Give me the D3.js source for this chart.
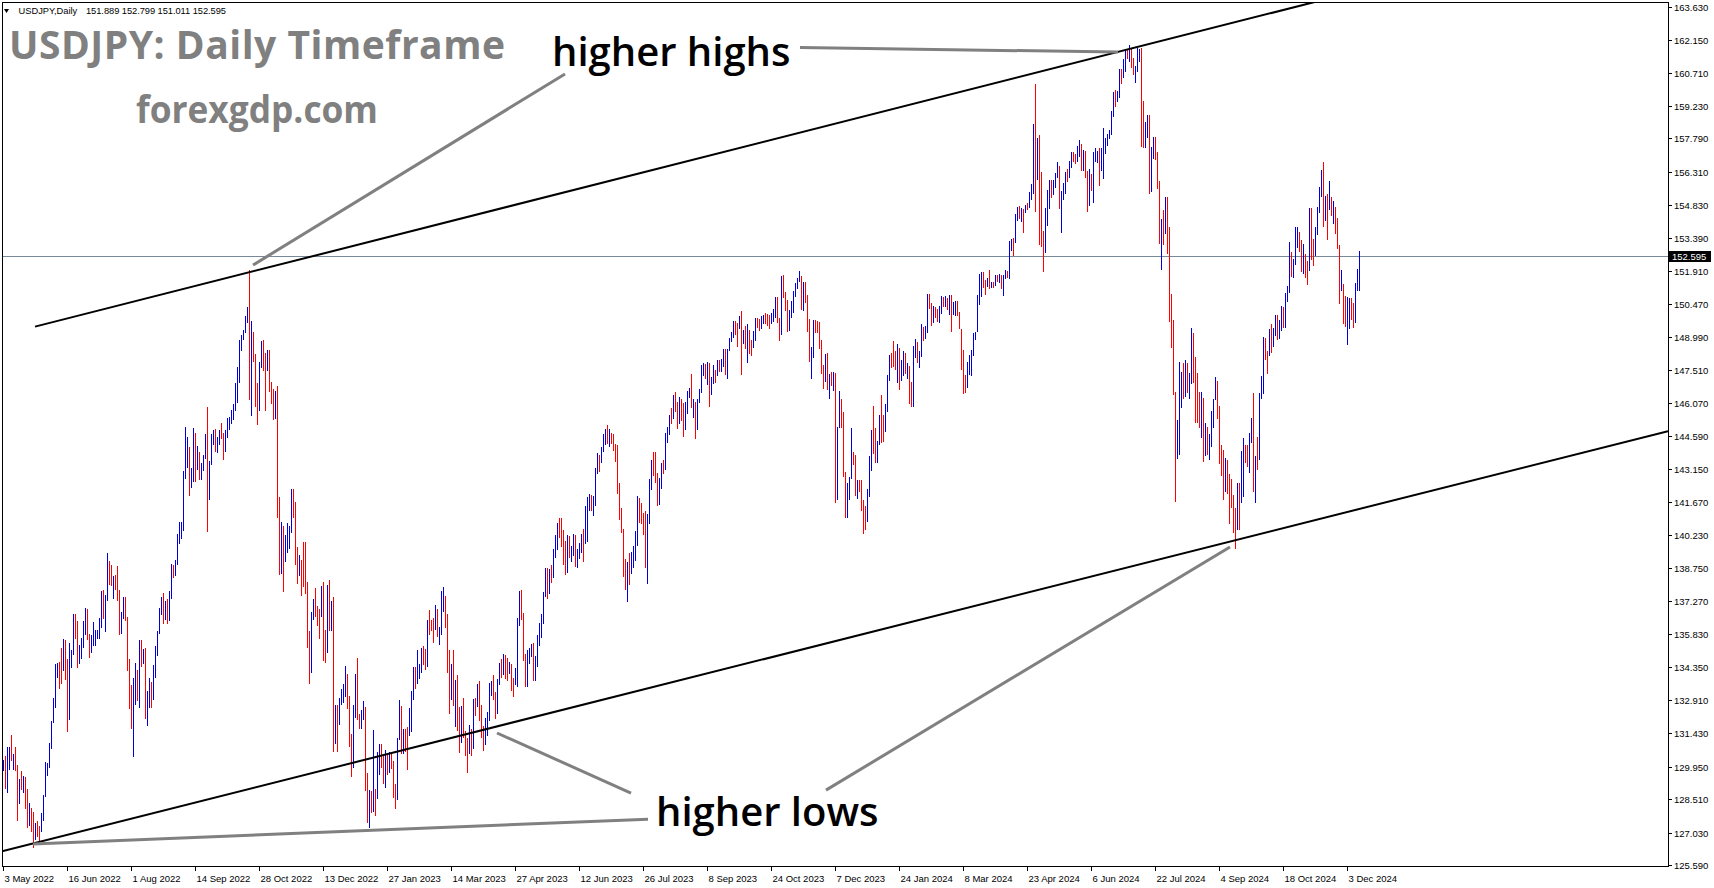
<!DOCTYPE html>
<html><head><meta charset="utf-8">
<script src="https://cdn.jsdelivr.net/npm/d3@7"></script>
<style>
html,body{margin:0;padding:0;background:#fff;overflow:hidden}
svg{display:block}
</style></head><body>
<svg id="chart" width="1714" height="888"></svg>
<script>
// ---------------- DATA ----------------
const symbolName = "USDJPY,Daily";
const headerOHLC = "151.889 152.799 151.011 152.595";
const titleText = "USDJPY: Daily Timeframe";
const siteText = "forexgdp.com";
const firstOpen = 129.95;
const lastPrice = 152.595;

// daily highs (3 May 2022 .. 11 Dec 2024)
const highs = [
130.25,130.40,130.80,130.80,131.35,130.50,130.80,130.00,129.40,129.75,129.55,129.50,128.95,128.35,128.10,127.95,127.45,127.55,127.30,127.90,128.70,130.15,130.10,130.98,131.95,133.00,134.50,134.55,134.60,135.20,135.60,135.55,
134.70,135.45,135.10,136.70,136.72,136.40,135.35,135.65,136.40,137.00,136.95,135.85,135.80,136.35,136.00,136.00,136.55,137.75,137.80,137.55,139.40,139.05,138.90,138.40,138.45,138.85,137.80,136.80,137.45,137.45,136.60,134.70,
133.55,133.90,134.55,134.25,135.55,135.55,135.15,135.20,133.30,133.90,133.70,134.45,135.30,135.95,137.00,137.45,137.65,137.30,137.40,137.75,138.95,138.90,139.10,140.25,140.80,140.80,143.05,144.99,144.55,144.10,143.20,144.95,
144.75,144.15,143.90,143.40,143.75,144.70,145.90,143.50,144.70,144.85,144.90,144.55,144.85,145.20,144.75,144.85,145.40,145.45,145.75,146.00,146.95,147.65,148.85,149.10,149.30,149.90,150.30,151.94,149.70,149.20,148.25,146.95,
147.90,148.80,148.85,148.30,148.40,148.40,147.00,146.70,146.60,146.80,141.90,140.80,140.60,140.20,140.75,140.60,142.25,142.25,141.70,139.70,139.35,139.10,139.90,139.90,138.15,135.95,136.80,137.40,137.85,137.05,136.95,137.95,
138.15,136.00,138.00,138.20,137.30,137.45,132.70,132.70,133.00,133.40,133.60,134.40,134.05,133.10,131.40,132.70,134.05,134.78,132.30,132.45,132.85,132.60,129.65,128.90,128.85,131.58,128.95,130.60,130.95,130.95,130.50,130.70,
130.45,130.60,130.55,130.20,129.20,131.20,132.90,132.65,131.60,131.60,131.70,132.55,133.30,134.35,134.35,135.10,134.50,135.20,135.30,135.15,136.45,136.90,136.45,136.55,137.10,136.95,136.15,137.75,137.91,137.50,136.70,135.10,
134.50,135.10,133.80,134.00,132.60,132.65,133.00,131.55,131.20,131.80,131.60,132.95,133.00,133.60,133.75,132.70,131.75,132.10,132.35,133.65,133.75,134.00,133.25,133.85,134.55,134.70,134.95,134.90,134.75,134.60,134.50,133.90,
134.30,136.55,137.75,137.80,136.75,134.95,135.10,135.20,135.40,135.45,134.85,135.80,136.30,136.70,137.70,138.75,138.75,138.70,138.90,139.60,140.20,140.75,140.95,140.95,140.45,139.95,140.20,140.15,139.75,140.25,140.20,139.60,
139.85,140.25,140.50,141.50,141.90,142.05,142.00,141.95,143.20,143.85,143.75,144.10,144.70,144.90,145.07,144.90,144.75,144.70,144.25,144.20,142.50,141.40,140.50,139.15,139.00,139.40,139.45,139.75,140.40,141.95,141.85,141.65,
141.20,141.30,141.15,142.70,143.55,143.90,143.90,142.95,142.75,143.40,143.55,144.75,145.00,145.55,145.85,146.40,146.55,146.10,146.35,146.25,146.05,146.10,146.60,146.75,147.35,146.25,146.10,146.25,146.70,147.75,147.85,147.80,
147.90,147.85,147.20,147.75,147.55,147.95,147.95,148.00,148.45,148.45,148.45,148.95,149.20,149.70,149.70,149.60,149.90,150.16,149.30,149.50,149.55,149.30,148.85,149.25,149.85,149.85,149.80,149.90,149.95,150.05,150.00,149.95,
150.05,150.25,150.75,150.75,149.85,151.70,151.75,151.00,150.65,150.20,150.60,151.05,151.40,151.60,151.92,151.70,151.45,151.45,150.85,149.80,148.55,149.75,149.75,149.70,149.65,148.85,147.75,148.25,148.30,147.35,147.45,147.45,
147.40,145.00,146.60,146.25,145.65,143.00,142.50,142.80,144.95,143.90,143.75,142.65,142.65,142.65,141.75,141.50,142.25,143.70,144.85,145.95,144.95,144.40,145.55,146.40,145.55,146.00,147.30,148.20,148.30,148.80,148.35,148.70,
148.50,147.95,148.35,148.30,147.85,147.70,147.00,148.60,148.90,148.75,148.35,149.55,149.45,149.50,150.90,150.90,150.50,150.35,150.30,150.25,150.35,150.80,150.75,150.80,150.70,150.85,150.85,150.55,150.60,150.60,150.10,149.35,
148.40,147.30,147.90,148.20,148.40,149.15,149.20,150.85,151.80,151.85,151.85,151.50,151.60,151.97,151.45,151.45,151.75,151.75,151.80,151.75,151.75,151.95,151.90,153.25,153.35,153.40,154.45,154.75,154.80,154.70,154.65,154.85,
154.95,155.40,155.75,158.45,160.20,157.80,157.95,156.30,153.70,154.70,155.50,155.95,155.95,155.95,156.25,156.75,156.55,155.45,155.80,156.30,156.45,156.80,157.20,157.20,157.10,157.45,157.70,157.55,157.30,157.25,156.35,156.45,
156.20,157.20,157.35,157.25,157.35,157.35,158.25,157.80,158.00,158.15,159.00,159.85,159.95,159.90,160.85,160.85,161.30,161.70,161.75,161.95,161.80,161.35,161.00,161.80,161.75,161.80,159.45,158.50,158.85,158.85,157.40,157.85,
157.85,157.20,155.90,154.20,154.60,155.20,155.20,153.85,150.90,149.75,146.55,145.30,147.90,147.45,147.85,147.95,147.85,147.40,149.40,149.15,148.10,147.40,146.55,146.55,146.30,145.20,145.00,144.70,145.70,146.25,147.20,147.05,
145.95,144.20,144.00,143.65,143.55,142.90,142.70,142.00,141.40,142.50,142.50,143.95,144.50,144.20,144.20,144.75,145.40,146.50,143.70,144.55,146.50,147.25,149.00,148.95,148.35,149.35,149.55,149.40,149.95,149.95,149.75,150.35,
150.30,150.95,151.25,153.20,152.75,152.45,153.85,153.85,153.65,153.30,153.10,152.65,152.35,154.70,154.70,153.35,153.85,154.75,155.65,156.40,156.75,155.25,155.35,155.90,155.20,155.00,154.75,154.25,153.05,151.95,151.35,150.80,
150.75,150.70,150.70,150.50,151.40,152.00,152.799
];
const lows = [
129.75,128.95,128.80,129.80,130.20,129.80,129.75,127.52,128.30,128.90,128.80,128.05,127.25,127.30,127.05,126.36,126.70,126.85,126.55,127.05,127.55,128.60,129.55,129.90,130.75,131.90,132.55,133.90,133.40,133.60,134.20,133.80,
131.50,132.00,134.30,134.90,135.60,134.30,134.50,134.70,135.20,135.80,135.55,134.75,135.00,135.30,135.30,135.60,135.60,136.10,136.50,135.90,137.30,138.00,137.95,137.40,137.80,137.30,135.80,135.85,136.50,136.40,134.20,132.50,
131.60,130.39,132.70,132.85,132.55,134.35,134.50,132.05,131.75,132.55,132.55,132.90,133.90,134.85,135.85,136.65,136.25,136.45,136.25,136.40,137.40,138.30,138.40,138.90,139.80,140.05,140.40,142.70,143.20,141.95,142.30,142.55,
142.55,143.10,142.65,142.65,143.05,143.60,140.35,141.75,143.30,144.20,143.90,143.85,144.20,144.45,143.55,143.90,144.50,144.85,145.15,145.30,145.70,146.05,146.95,148.35,148.85,149.15,149.60,146.20,145.50,147.90,145.90,145.10,
145.70,147.60,147.50,145.70,147.50,146.55,146.00,145.30,145.35,140.95,138.45,138.50,137.67,139.00,139.40,139.60,140.30,140.95,138.90,138.05,138.40,137.50,137.90,137.60,135.20,133.60,134.10,136.45,136.60,136.20,135.60,136.60,
134.65,134.55,135.00,135.95,135.95,130.58,130.95,130.60,131.80,132.70,132.75,133.05,132.50,130.80,129.50,129.90,132.10,132.00,131.60,131.60,132.00,128.85,127.45,127.25,127.90,127.95,127.75,128.50,129.60,129.90,129.20,129.00,
129.60,129.65,129.85,128.55,128.08,128.45,131.15,130.50,130.50,130.60,129.80,131.30,131.50,132.90,133.40,133.60,133.85,134.10,134.45,134.25,134.35,135.80,135.95,135.45,136.00,135.70,135.35,135.80,136.80,136.10,134.10,132.30,
132.90,132.65,131.70,131.55,130.55,131.00,131.20,130.40,129.65,130.50,130.40,130.75,132.20,132.60,131.95,131.20,130.65,130.90,131.30,131.95,133.10,132.90,132.05,132.30,133.55,133.90,134.00,133.85,133.75,134.05,133.30,133.05,
133.55,133.50,136.20,136.45,134.65,133.50,133.50,134.50,134.80,133.75,133.75,134.35,135.30,135.65,136.25,137.45,137.40,137.60,138.10,138.30,139.20,139.55,140.10,139.70,138.90,138.45,138.55,139.20,139.00,139.30,138.80,138.75,
139.15,139.40,139.00,139.80,139.90,141.30,141.30,141.05,141.50,142.90,143.00,143.40,143.90,144.20,144.25,144.10,144.25,143.95,143.45,142.05,140.90,140.30,138.35,137.80,137.25,138.00,138.50,138.75,139.05,139.75,140.75,140.70,
140.20,138.75,138.05,140.70,142.20,142.85,142.50,141.50,141.55,142.25,142.90,143.10,144.30,144.65,145.15,145.35,145.65,144.90,145.15,145.25,144.55,144.85,145.60,146.30,145.85,145.40,144.45,144.85,146.05,146.50,147.25,147.15,
146.85,145.90,146.40,146.90,146.95,147.25,147.45,147.45,147.65,147.30,147.15,148.35,148.75,148.95,149.10,148.55,149.35,147.30,148.70,148.45,147.85,148.25,148.15,148.50,148.80,149.40,149.25,149.35,149.55,149.55,149.50,149.35,
149.55,149.65,149.85,149.60,148.80,149.10,150.70,150.15,149.20,149.25,149.85,150.05,150.75,151.10,151.45,150.20,150.15,150.50,149.20,147.90,147.15,148.05,149.15,149.15,148.45,147.35,146.70,147.00,146.65,146.25,146.80,146.60,
141.62,141.75,144.95,144.95,142.80,140.95,140.95,141.75,142.70,143.30,141.95,141.80,142.10,141.30,140.25,140.45,140.80,141.90,143.05,143.80,143.40,143.40,144.20,144.30,144.35,144.80,145.65,147.05,147.60,147.65,147.55,146.95,
146.65,147.05,147.25,147.35,147.15,146.00,145.90,145.90,148.05,147.85,147.60,148.10,148.80,148.90,149.15,150.25,149.50,149.60,149.85,149.65,149.60,150.00,150.30,150.30,150.20,149.95,149.20,149.95,149.90,149.90,149.35,147.55,
146.48,146.50,146.75,147.30,147.25,148.15,148.85,149.20,150.40,150.75,151.15,150.85,151.20,151.10,151.15,151.15,151.25,151.45,151.40,151.10,150.80,151.55,151.60,151.55,152.80,152.60,153.15,154.15,154.20,154.10,153.60,154.50,
154.60,154.70,155.05,155.35,154.55,155.95,153.05,152.99,151.86,152.70,153.90,154.65,155.15,155.30,155.60,156.05,154.65,153.60,155.05,155.35,155.85,156.05,156.50,156.75,156.65,156.75,156.95,156.35,156.35,156.05,154.55,154.80,
155.45,154.95,156.75,156.70,155.70,156.35,156.00,157.10,157.45,157.75,157.95,158.75,159.20,159.40,159.60,160.20,160.45,160.75,161.30,161.20,160.90,160.60,160.25,160.75,161.20,157.40,157.35,157.35,157.80,155.35,155.40,156.90,
156.85,155.55,153.10,151.95,153.05,153.55,152.65,149.65,148.50,146.40,141.70,143.60,143.75,145.85,146.25,146.35,146.50,146.25,146.90,146.95,145.20,145.20,144.95,144.50,143.45,143.70,143.75,143.55,144.10,144.95,146.20,145.35,
143.35,142.85,141.75,142.10,142.05,140.70,141.40,140.30,139.58,140.45,140.45,141.65,141.90,143.40,143.25,142.95,144.30,142.10,141.65,143.10,143.55,146.25,146.45,147.95,147.35,148.15,148.30,148.55,149.05,148.85,148.90,149.25,
149.40,149.40,150.55,150.95,151.65,151.60,152.20,152.95,152.75,151.85,151.80,151.60,151.30,151.90,152.40,152.15,152.60,153.50,154.50,155.20,153.85,154.15,153.30,154.60,154.35,154.00,153.55,152.90,150.45,151.05,149.55,149.45,
148.65,149.35,149.75,149.40,149.60,151.05,151.011
];
const closes = [
130.10,129.10,130.20,130.55,130.30,130.40,129.95,128.35,129.20,129.15,129.40,128.25,127.80,127.90,127.85,126.85,127.30,127.10,127.10,127.65,128.70,129.85,129.90,130.85,131.90,132.60,134.25,134.40,134.40,134.35,135.45,134.20,
132.20,134.95,135.05,136.65,136.20,134.95,135.20,135.45,136.15,136.60,135.70,135.20,135.70,135.85,135.90,135.95,136.10,137.45,136.85,137.45,138.95,138.55,138.15,138.20,138.20,137.35,136.10,136.65,136.95,136.55,134.25,133.25,
131.60,133.15,133.85,133.00,135.00,134.95,135.05,132.90,133.00,133.45,133.30,134.20,135.00,135.85,136.95,137.45,136.75,137.15,136.55,137.45,138.75,138.75,138.95,140.20,140.25,140.55,142.75,144.00,144.10,142.45,142.85,144.55,
143.15,143.45,142.90,143.20,143.70,144.10,142.35,143.35,144.70,144.75,144.15,144.45,144.75,144.55,144.10,144.60,145.20,145.30,145.70,145.75,146.90,147.15,148.70,149.05,149.25,149.85,150.15,147.65,148.95,147.95,146.35,146.35,
147.45,148.70,148.15,147.90,148.25,146.60,146.60,145.65,146.40,141.00,138.75,139.90,139.25,139.55,140.25,140.35,142.05,141.25,139.60,138.55,139.15,138.95,138.60,138.05,135.35,134.30,136.75,137.00,136.60,136.55,136.55,137.70,
135.60,135.50,137.75,136.60,136.85,131.70,132.45,132.35,132.85,132.90,133.45,134.05,133.05,131.10,130.05,132.40,133.40,132.10,131.90,132.25,132.45,129.20,127.90,128.55,128.15,128.90,128.45,129.60,130.70,130.15,129.25,130.25,
129.85,130.40,130.10,128.90,128.65,131.15,132.60,131.05,131.40,131.40,131.35,132.35,133.10,134.15,133.95,134.15,134.25,134.95,134.90,134.70,136.45,136.20,136.20,136.15,136.75,135.85,135.95,137.20,137.35,136.10,134.95,133.25,
134.20,133.40,133.75,131.85,131.30,132.50,131.45,130.80,130.70,131.50,130.90,132.85,132.70,132.80,132.45,131.45,131.35,131.80,132.15,133.60,133.70,133.05,132.55,133.75,134.45,134.10,134.70,134.25,134.15,134.30,133.70,133.65,
133.90,136.30,137.45,136.60,134.65,134.25,134.85,135.05,135.15,134.35,134.50,135.70,136.10,136.40,137.60,138.60,137.95,138.60,138.55,139.45,139.95,140.60,140.40,139.80,139.30,138.80,139.95,139.55,139.60,140.10,139.00,139.35,
139.65,140.20,140.00,140.25,141.85,141.95,141.45,141.85,143.05,143.70,143.50,144.05,144.45,144.75,144.30,144.70,144.50,144.10,144.05,142.10,141.30,140.35,138.45,138.10,138.85,138.75,138.90,139.65,140.05,141.80,141.45,140.90,
140.25,139.45,141.15,142.30,143.35,143.30,142.55,141.75,142.45,143.35,143.35,144.65,144.95,145.55,145.55,146.35,145.85,145.35,146.20,145.85,144.85,145.85,146.40,146.55,145.90,146.15,145.55,146.20,146.50,147.70,147.75,147.30,
147.85,146.55,147.10,147.45,147.45,147.85,147.60,147.85,148.35,147.55,148.35,148.85,149.05,149.65,149.35,149.35,149.85,149.05,149.15,148.50,149.30,148.55,148.55,149.15,149.80,149.55,149.55,149.75,149.85,149.85,149.85,149.70,
149.90,150.20,150.40,149.60,149.10,151.70,150.95,150.45,149.40,150.05,150.40,150.95,151.35,151.50,151.70,150.35,151.35,150.75,149.60,148.30,148.40,149.55,149.55,149.40,148.65,147.45,147.25,148.20,146.80,147.20,147.20,147.30,
144.10,144.95,146.15,145.40,142.90,141.90,142.15,142.80,143.85,143.55,142.15,142.40,142.35,141.85,141.35,141.00,142.05,143.30,144.65,144.60,144.20,144.25,145.45,145.30,144.90,145.75,147.15,148.15,148.15,148.15,148.10,148.40,
147.45,147.65,148.15,147.50,147.60,146.90,146.40,148.40,148.70,147.95,148.15,149.30,149.25,149.35,150.75,150.60,149.95,150.25,150.05,149.90,150.30,150.50,150.50,150.70,150.50,150.70,149.95,150.10,150.50,150.00,149.35,147.85,
147.05,146.95,147.65,147.75,148.30,149.05,149.15,150.85,151.30,151.60,151.40,151.40,151.55,151.30,151.35,151.35,151.65,151.55,151.70,151.35,151.60,151.85,151.80,153.15,153.25,153.25,154.25,154.65,154.35,154.65,154.65,154.80,
154.80,155.35,155.60,158.35,156.35,157.80,155.80,153.05,152.95,153.90,154.65,155.55,155.45,155.75,156.20,156.40,154.85,155.35,155.65,156.25,156.15,156.75,156.95,156.95,156.85,157.20,157.65,156.75,157.25,156.10,154.80,156.05,
155.65,156.75,157.05,157.15,156.65,157.05,157.40,157.75,157.85,158.10,158.90,159.80,159.65,159.70,160.75,160.75,160.90,161.45,161.45,161.70,161.25,160.75,160.85,161.35,161.70,158.90,157.90,158.05,158.35,156.25,157.35,157.45,
157.00,155.60,153.90,153.95,153.75,154.00,152.70,149.95,149.35,146.55,144.20,144.25,146.85,147.25,146.65,147.25,146.85,147.30,149.25,147.60,146.30,145.25,145.25,146.25,144.35,144.55,143.90,144.60,144.95,146.15,146.95,145.45,
143.75,143.40,142.30,143.15,142.40,142.40,141.80,140.85,140.60,142.35,142.30,142.60,143.85,143.60,143.25,144.70,144.80,142.15,143.60,143.55,146.45,146.95,148.70,148.20,148.20,149.30,148.60,149.15,149.75,149.20,149.30,150.05,
149.50,150.85,151.05,152.70,151.85,152.30,153.30,153.40,153.35,152.05,152.95,152.20,151.55,154.65,152.95,152.60,153.70,154.55,155.50,156.25,154.30,154.65,154.65,155.45,154.55,154.75,154.20,153.10,151.10,151.55,149.75,149.55,
149.60,150.60,150.05,149.95,151.25,151.889,152.595
];

const dateLabels = ["3 May 2022","16 Jun 2022","1 Aug 2022","14 Sep 2022","28 Oct 2022","13 Dec 2022","27 Jan 2023","14 Mar 2023","27 Apr 2023","12 Jun 2023","26 Jul 2023","8 Sep 2023","24 Oct 2023","7 Dec 2023","24 Jan 2024","8 Mar 2024","23 Apr 2024","6 Jun 2024","22 Jul 2024","4 Sep 2024","18 Oct 2024","3 Dec 2024"];
const dateTickBars = [0,32,64,96,128,160,192,224,256,288,320,352,384,416,448,480,512,544,576,608,640,672];
const priceTicks = [163.630,162.150,160.710,159.230,157.790,156.310,154.830,153.390,151.910,150.470,148.990,147.510,146.070,144.590,143.150,141.670,140.230,138.750,137.270,135.830,134.350,132.910,131.430,129.950,128.510,127.030,125.590];

// channel lines (bar index, price)
const upperTrend = [[16,149.45],[563,161.75]];
const lowerTrend = [[0,126.21],[832.5,144.82]];
// grey pointer lines (bar index, price)
const pointerLines = [
  [[125,152.18],[281,160.65]],
  [[398.5,161.82],[557.5,161.62]],
  [[15,126.52],[322.5,127.62]],
  [[314,128.78],[247,131.44]],
  [[411.5,128.91],[613.5,139.68]]
];
const noteTexts = ["higher highs","higher lows"];
const noteAnchors = [[274.5,161.02],[326.5,127.33]];

// ---------------- DRAW ----------------
const W = 1714, H = 888;
const L = 2, T = 2, R = 1668, B = 867;
const UP = "#0000dd", DOWN = "#ff0000";
const svg = d3.select("#chart");
const x = d3.scaleLinear().domain([0, 679]).range([3, 3 + 2*679]);
const y = d3.scaleLinear().domain([125.59, 163.63]).range([865, 6.7]);

svg.append("rect").attr("width", W).attr("height", H).attr("fill", "#fff");
svg.append("defs").append("clipPath").attr("id","plotclip")
  .append("rect").attr("x", L).attr("y", T).attr("width", R-L).attr("height", B-T);

const plot = svg.append("g").attr("clip-path","url(#plotclip)");

// last price line
plot.append("line").attr("x1", L).attr("x2", R)
  .attr("y1", Math.round(y(lastPrice))+0.5).attr("y2", Math.round(y(lastPrice))+0.5)
  .attr("stroke", "#778899").attr("stroke-width", 1);

// bars
const opens = closes.map((c,i) => i === 0 ? firstOpen : closes[i-1]);
plot.append("g").attr("shape-rendering","crispEdges")
  .selectAll("rect").data(closes).join("rect")
  .attr("x", (d,i) => Math.round(x(i)))
  .attr("width", 1)
  .attr("y", (d,i) => Math.round(y(highs[i])))
  .attr("height", (d,i) => Math.max(1, Math.round(y(lows[i])) - Math.round(y(highs[i]))))
  .attr("fill", (d,i) => d > opens[i] ? UP : DOWN);

// channel lines
function lineThrough(p1, p2, xa, xb){
  const ax = x(p1[0]), ay = y(p1[1]), bx = x(p2[0]), by = y(p2[1]);
  const m = (by-ay)/(bx-ax);
  return [xa, ay + m*(xa-ax), xb, ay + m*(xb-ax)];
}
const up = lineThrough(upperTrend[0], upperTrend[1], x(upperTrend[0][0]), R);
const lo = lineThrough(lowerTrend[0], lowerTrend[1], L, R);
[up, lo].forEach(s => {
  plot.append("line").attr("x1", s[0]).attr("y1", s[1]).attr("x2", s[2]).attr("y2", s[3])
    .attr("stroke", "#000").attr("stroke-width", 2);
});

// grey pointer lines
pointerLines.forEach(p => {
  plot.append("line")
    .attr("x1", x(p[0][0])).attr("y1", y(p[0][1]))
    .attr("x2", x(p[1][0])).attr("y2", y(p[1][1]))
    .attr("stroke", "#808080").attr("stroke-width", 3);
});

// notes
noteTexts.forEach((t,i) => {
  svg.append("text").attr("x", x(noteAnchors[i][0])).attr("y", y(noteAnchors[i][1]))
    .attr("font-family", "'Open Sans', sans-serif").attr("font-weight", 600)
    .attr("font-size", 40).attr("fill", "#000").text(t);
});

// title & site
svg.append("text").attr("x", 9).attr("y", 59)
  .attr("font-family", "'Open Sans', sans-serif").attr("font-weight", 700)
  .attr("font-size", 39).attr("fill", "#808080")
  .attr("textLength", 496).attr("lengthAdjust", "spacing").text(titleText);
svg.append("text").attr("x", 136).attr("y", 123)
  .attr("font-family", "'Open Sans', sans-serif").attr("font-weight", 700)
  .attr("font-size", 37).attr("fill", "#808080")
  .attr("textLength", 242).attr("lengthAdjust", "spacingAndGlyphs").text(siteText);

// header
svg.append("path").attr("d", "M4,9 L9,9 L6.5,13 Z").attr("fill", "#000");
svg.append("text").attr("x", 18.5).attr("y", 14)
  .attr("font-family", "'Liberation Sans', Arial, sans-serif").attr("font-size", 9.3)
  .attr("fill", "#000").text(symbolName);
svg.append("text").attr("x", 86).attr("y", 14)
  .attr("font-family", "'Liberation Sans', Arial, sans-serif").attr("font-size", 9.3)
  .attr("fill", "#000").attr("textLength", 140).attr("lengthAdjust","spacing").text(headerOHLC);

// frame
svg.append("rect").attr("x", L+0.5).attr("y", T+0.5).attr("width", R-L).attr("height", B-T-1)
  .attr("fill", "none").attr("stroke", "#000").attr("stroke-width", 1).attr("shape-rendering","crispEdges");

// price axis
const fmt = d3.format(".3f");
const pa = svg.append("g").attr("font-family", "'Liberation Sans', Arial, sans-serif").attr("font-size", 9.5);
priceTicks.forEach(v => {
  const yy = Math.round(y(v)) + 0.5;
  pa.append("line").attr("x1", R).attr("x2", R+4).attr("y1", yy).attr("y2", yy)
    .attr("stroke", "#000").attr("shape-rendering","crispEdges");
  pa.append("text").attr("x", R+6).attr("y", yy + 3.5).attr("fill", "#000").text(fmt(v));
});
// last price tag
const ly = Math.round(y(lastPrice));
pa.append("rect").attr("x", R+1).attr("y", ly-5).attr("width", 42).attr("height", 11).attr("fill", "#000");
pa.append("text").attr("x", R+4).attr("y", ly+4).attr("fill", "#fff").text(fmt(lastPrice));

// time axis
const ta = svg.append("g").attr("font-family", "'Liberation Sans', Arial, sans-serif").attr("font-size", 9.5);
dateTickBars.forEach((b,i) => {
  const xx = Math.round(x(b)) + 0.5;
  ta.append("line").attr("x1", xx).attr("x2", xx).attr("y1", B).attr("y2", B+4)
    .attr("stroke", "#000").attr("shape-rendering","crispEdges");
  ta.append("text").attr("x", xx + 1).attr("y", 882).attr("fill", "#000").text(dateLabels[i]);
});
</script>
</body></html>
